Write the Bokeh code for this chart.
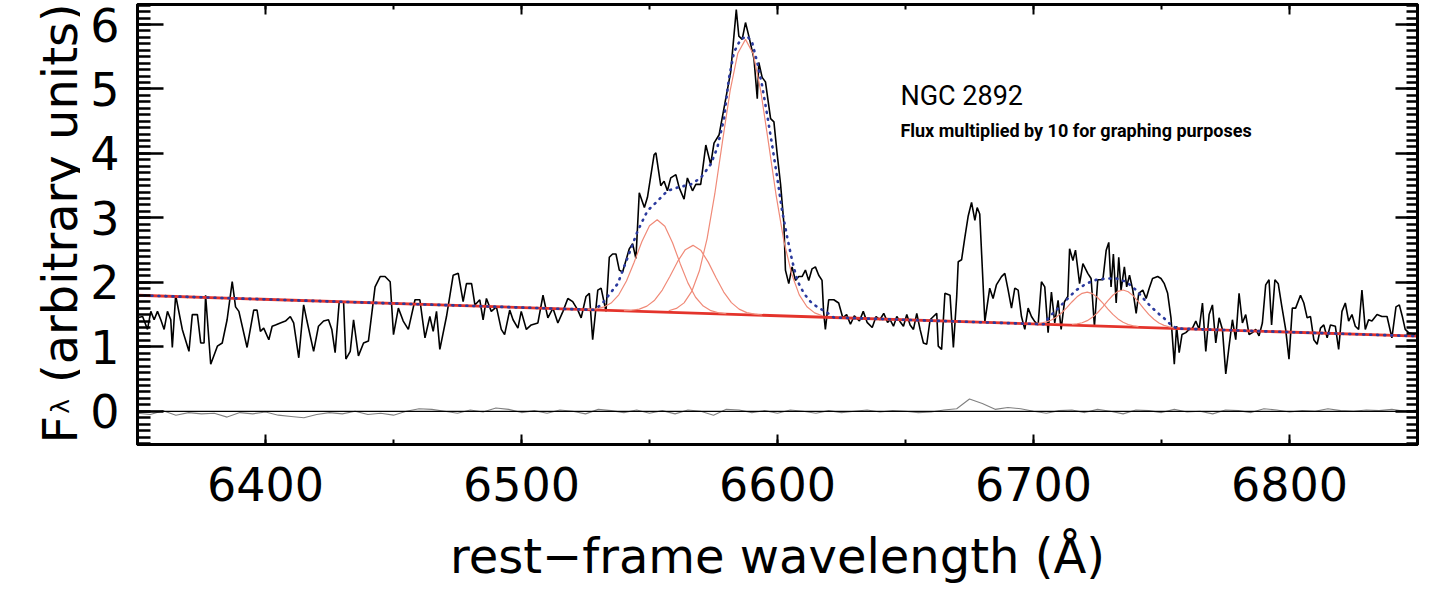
import numpy as np
from bokeh.plotting import figure
from bokeh.layouts import row
from bokeh.models import (SingleIntervalTicker, LinearAxis, Label, Span, Range1d,
                          CustomLabelingPolicy)
from bokeh.embed import file_html
from bokeh.resources import INLINE
from bokeh.core.properties import value

# ---------------- data ----------------
spec_wave_a = [6350.0, 6352.0, 6353.9, 6355.2, 6356.5, 6357.8, 6359.1, 6360.4, 6361.7, 6363.0, 6363.6,
               6364.9, 6367.5, 6370.1, 6371.4, 6373.4, 6374.7, 6376.0, 6376.6, 6378.6, 6381.2,
               6383.1, 6385.0, 6387.0, 6388.3, 6389.6, 6392.8, 6395.4, 6396.7, 6398.0, 6399.3,
               6401.3, 6402.6, 6403.9, 6405.8, 6407.8, 6409.7, 6411.0, 6413.0, 6414.9, 6416.2,
               6418.8, 6420.7, 6422.7, 6424.6, 6425.9, 6427.2, 6428.8, 6430.5, 6431.4, 6433.1,
               6434.4, 6436.3, 6438.3, 6440.2, 6442.8, 6444.8, 6446.7, 6448.7, 6450.0, 6451.9,
               6453.8, 6455.8, 6458.4, 6460.3, 6462.3, 6464.2, 6465.5, 6466.8, 6468.1, 6470.7,
               6473.3, 6475.3, 6477.2, 6478.5, 6480.5, 6481.8, 6483.7, 6485.0, 6486.3, 6488.2,
               6490.2, 6492.1, 6493.4, 6495.4, 6496.7, 6498.6, 6499.9, 6501.9, 6503.8]
spec_flux_a = [1.45, 1.47, 1.27, 1.55, 1.42, 1.55, 1.42, 1.27, 1.55, 1.42, 0.99,
               1.80, 1.27, 0.93, 1.50, 1.50, 1.06, 1.06, 1.80, 0.73, 1.01,
               1.06, 1.42, 2.01, 1.62, 1.55, 0.99, 1.57, 1.57, 1.24, 1.29,
               1.11, 1.32, 1.34, 1.37, 1.40, 1.47, 1.37, 0.83, 1.65, 1.40,
               0.93, 1.32, 1.40, 1.42, 1.27, 0.91, 1.70, 1.70, 0.81, 0.93,
               1.42, 0.86, 1.06, 1.09, 1.93, 2.09, 2.09, 2.01, 1.19, 1.60,
               1.40, 1.27, 1.73, 1.73, 1.14, 1.47, 1.24, 1.55, 0.96, 1.47,
               2.11, 2.14, 1.70, 1.98, 1.98, 1.65, 1.73, 1.42, 1.75, 1.55,
               1.62, 1.27, 1.19, 1.57, 1.42, 1.29, 1.55, 1.27, 1.34]

spec_wave_b = [6506.4, 6508.4, 6510.3, 6512.3, 6514.2, 6516.2, 6518.1, 6520.0, 6522.0, 6523.3,
               6525.2, 6526.5, 6527.8, 6529.8, 6531.1, 6533.0, 6534.3, 6535.6, 6536.9, 6538.2,
               6539.5, 6542.1, 6543.4, 6544.7, 6546.0, 6548.0, 6549.2, 6551.8, 6552.5, 6554.4,
               6555.7, 6557.0, 6558.3, 6560.3, 6561.6, 6563.5, 6564.8, 6566.8, 6568.1, 6570.0,
               6572.0, 6573.9, 6575.2, 6577.2, 6581.7, 6583.9, 6584.9, 6586.2, 6587.5, 6588.8,
               6590.8, 6592.1, 6592.7, 6594.0, 6595.3, 6597.3, 6598.6, 6599.9, 6601.2, 6602.5,
               6603.1, 6604.4, 6605.7, 6607.0, 6608.3, 6609.6, 6610.9, 6612.2, 6613.5, 6614.8,
               6616.1, 6617.4, 6618.0, 6618.7, 6620.0, 6622.0, 6623.9]
spec_flux_b = [1.37, 1.80, 1.45, 1.60, 1.37, 1.55, 1.75, 1.70, 1.57, 1.45,
               1.78, 1.83, 1.11, 1.88, 1.91, 1.55, 2.39, 2.44, 2.44, 2.19,
               2.16, 2.52, 2.60, 2.37, 3.39, 3.16, 3.32, 3.98, 4.01, 3.50,
               3.57, 3.42, 3.62, 3.67, 3.47, 3.29, 3.62, 3.42, 3.52, 3.52,
               4.13, 3.83, 4.16, 4.29, 5.26, 6.23, 5.82, 5.77, 6.03, 5.82,
               5.47, 4.85, 5.41, 5.18, 5.11, 4.54, 4.49, 3.98, 3.52, 2.91,
               2.19, 1.98, 2.24, 2.03, 2.09, 2.09, 2.19, 2.03, 2.21, 2.24,
               2.11, 2.03, 1.55, 1.27, 1.73, 1.73, 1.68]

spec_wave_c = [6625.5, 6627.0, 6628.5, 6630.0, 6632.0, 6633.5, 6635.0, 6637.0, 6638.5, 6640.0, 6641.5, 6643.0,
               6644.0, 6645.3, 6646.6, 6647.9, 6649.2, 6650.5, 6651.8, 6653.1, 6654.4, 6655.7,
               6657.0, 6658.3, 6659.6, 6660.9, 6662.2, 6662.8, 6664.1, 6665.4, 6667.4, 6668.7,
               6670.0, 6670.6, 6671.9, 6673.2, 6674.5, 6675.8, 6677.1, 6678.0, 6679.0, 6681.0,
               6682.9, 6684.2, 6685.5, 6687.5, 6688.8, 6690.1, 6691.4, 6692.7, 6694.0, 6695.3,
               6696.6, 6697.9, 6699.2, 6700.5, 6701.8, 6703.1, 6704.4, 6705.7, 6707.0, 6708.3,
               6709.6, 6710.8, 6712.1, 6713.4]
spec_flux_c = [1.45, 1.50, 1.35, 1.48, 1.40, 1.55, 1.38, 1.30, 1.47, 1.42, 1.52, 1.38,
               1.42, 1.32, 1.47, 1.39, 1.32, 1.50, 1.34, 1.27, 1.52, 1.27,
               1.06, 1.04, 1.42, 1.47, 1.52, 1.01, 0.96, 1.83, 1.80, 0.99,
               1.78, 2.32, 2.35, 2.70, 3.03, 3.24, 2.96, 3.16, 3.06, 1.39,
               1.91, 1.75, 1.96, 2.09, 2.14, 1.88, 1.60, 1.91, 1.88, 1.47,
               1.27, 1.60, 1.47, 1.39, 1.34, 2.01, 1.93, 1.22, 1.85, 1.37,
               1.72, 1.27, 1.70, 1.78]

spec_wave_d = [6714.1, 6715.4, 6716.4, 6718.0, 6719.3, 6721.2, 6722.5, 6723.8, 6725.1, 6727.1,
               6728.4, 6729.4, 6730.3, 6731.2, 6732.3, 6733.3, 6734.2, 6735.5, 6736.4, 6737.5,
               6738.8, 6740.1, 6741.1, 6742.7, 6744.0, 6745.2, 6746.5, 6748.5, 6749.8, 6751.1,
               6752.4, 6753.7, 6755.0, 6755.9, 6756.9, 6758.0, 6759.5, 6760.8, 6762.1, 6763.4,
               6764.7, 6766.0, 6767.3, 6768.6, 6769.9, 6771.2, 6772.5, 6773.8, 6775.1, 6776.4,
               6777.7, 6779.0, 6780.3, 6781.6, 6782.9, 6784.2, 6785.5, 6786.8, 6788.1, 6789.4,
               6790.7, 6792.0, 6793.0, 6794.3, 6795.6, 6796.9, 6798.5, 6799.8, 6801.1, 6802.4,
               6804.3, 6805.6, 6806.9, 6808.2, 6809.5, 6810.8, 6812.1, 6813.4, 6814.7, 6816.0,
               6817.9, 6819.2, 6820.5, 6821.8, 6823.1, 6824.4, 6825.7, 6827.0, 6828.3, 6829.6,
               6830.9, 6832.2, 6834.2, 6836.1, 6838.1, 6840.0, 6841.6, 6842.9, 6844.2, 6845.2,
               6846.5, 6849.1]
spec_flux_d = [2.52, 2.34, 2.50, 1.98, 2.29, 2.14, 2.06, 1.32, 2.04, 2.04,
               2.50, 2.62, 1.93, 2.44, 1.68, 2.39, 1.88, 2.24, 1.93, 2.11,
               1.88, 1.52, 1.83, 1.88, 1.75, 1.91, 2.06, 2.09, 2.06, 1.98,
               1.83, 1.45, 0.73, 1.32, 0.91, 1.19, 1.22, 1.27, 1.29, 1.40,
               1.27, 1.68, 0.93, 1.50, 1.65, 1.06, 1.45, 1.27, 0.58, 1.01,
               1.42, 1.11, 1.83, 1.37, 1.50, 1.19, 1.22, 1.27, 1.17, 1.37,
               1.96, 2.04, 1.34, 2.04, 1.98, 1.65, 1.27, 0.81, 1.60, 1.60,
               1.80, 1.68, 1.45, 1.47, 1.11, 1.04, 1.29, 1.34, 1.14, 1.34,
               1.32, 0.96, 1.55, 1.68, 1.40, 1.50, 1.32, 1.27, 1.88, 1.27,
               1.42, 1.40, 1.50, 1.47, 1.47, 1.14, 1.62, 1.65, 1.45, 1.27,
               1.22, 1.19]

cont_wave = [6350.0, 6850.0]
cont_flux = [1.80, 1.165]

g1_wave = [6526, 6529, 6532, 6535, 6538, 6541, 6544, 6547, 6550, 6553, 6556, 6559, 6562, 6565, 6568, 6571, 6574, 6577, 6580]
g1_flux = [1.581, 1.589, 1.615, 1.679, 1.807, 2.022, 2.313, 2.630, 2.879, 2.972, 2.871, 2.614, 2.290, 1.992, 1.769, 1.633, 1.561, 1.528, 1.513]

g2_wave = [6540, 6543, 6546, 6549, 6552, 6555, 6558, 6561, 6564, 6567, 6570, 6573, 6576, 6579, 6582, 6585, 6588, 6591, 6594]
g2_flux = [1.562, 1.567, 1.584, 1.631, 1.724, 1.881, 2.094, 2.325, 2.507, 2.574, 2.499, 2.310, 2.071, 1.850, 1.686, 1.585, 1.531, 1.506, 1.494]

g3_wave = [6557.5, 6560.5, 6563.5, 6566.5, 6569.5, 6572.5, 6575.5, 6578.5, 6581.5, 6584.5, 6587.5,
           6590.5, 6593.5, 6596.5, 6599.5, 6602.5, 6605.5, 6608.5, 6611.5, 6614.5, 6617.5]
g3_flux = [1.560, 1.596, 1.682, 1.859, 2.179, 2.679, 3.371, 4.183, 4.973, 5.554, 5.769,
           5.547, 4.958, 4.160, 3.340, 2.641, 2.134, 1.806, 1.621, 1.527, 1.483]

s1_wave = [6701, 6703, 6705, 6707, 6709, 6711, 6713, 6715, 6717, 6719, 6721, 6723, 6725, 6727, 6729, 6731, 6733, 6735, 6737, 6739, 6741]
s1_flux = [1.363, 1.370, 1.387, 1.416, 1.464, 1.528, 1.609, 1.696, 1.775, 1.830, 1.849, 1.825, 1.765, 1.681, 1.589, 1.503, 1.433, 1.381, 1.346, 1.325, 1.312]

s2_wave = [6715, 6717, 6719, 6721, 6723, 6725, 6727, 6729, 6731, 6733, 6735, 6737, 6739, 6741, 6743, 6745, 6747, 6749, 6751, 6753, 6755]
s2_flux = [1.346, 1.355, 1.373, 1.406, 1.457, 1.529, 1.617, 1.714, 1.800, 1.860, 1.881, 1.855, 1.790, 1.698, 1.597, 1.503, 1.427, 1.370, 1.333, 1.309, 1.296]

fit_wave = [6350.0, 6528.0, 6531.1, 6537.6, 6541.5, 6545.4, 6549.2, 6553.1, 6557.0, 6560.9, 6566.1, 6570.0,
            6573.9, 6576.5, 6579.1, 6581.0, 6583.0, 6585.6, 6588.2, 6590.1, 6592.1, 6594.0, 6596.0, 6597.9,
            6599.9, 6601.8, 6603.8, 6605.7, 6607.7, 6610.3, 6612.9, 6616.1, 6618.7, 6622.0, 6704.0, 6706.3,
            6710.2, 6713.4, 6716.7, 6720.6, 6724.5, 6728.4, 6732.3, 6736.2, 6740.1, 6744.0, 6747.8, 6751.7,
            6753.7, 6756.0, 6850.0]
fit_flux = [1.80, 1.574, 1.65, 1.98, 2.39, 2.80, 3.11, 3.26, 3.42, 3.47, 3.52, 3.62,
            3.83, 4.09, 4.54, 5.16, 5.57, 5.77, 5.82, 5.72, 5.41, 5.05, 4.59, 4.13,
            3.62, 3.11, 2.70, 2.34, 2.03, 1.83, 1.70, 1.60, 1.55, 1.455, 1.350, 1.47,
            1.62, 1.75, 1.88, 1.98, 2.04, 2.06, 2.06, 2.01, 1.88, 1.70, 1.55, 1.42,
            1.34, 1.284, 1.165]

resid_wave = list(range(6350, 6851, 5))
resid_flux = [-0.03, -0.05, 0.01, -0.06, -0.02, -0.04, -0.03, -0.09, -0.02, -0.04, -0.01,
              -0.06, -0.08, -0.10, -0.05, -0.02, -0.04, 0.00, -0.05, -0.03, -0.06,
              0.00, 0.04, 0.03, 0.00, -0.03, 0.02, -0.01, 0.05, 0.03, -0.02,
              0.01, -0.03, 0.02, 0.00, -0.04, 0.03, 0.01, -0.02, 0.02, -0.03,
              0.01, -0.04, 0.02, 0.00, -0.06, 0.03, 0.02, -0.02, 0.01, -0.03,
              0.02, 0.00, -0.03, 0.01, -0.02, 0.00, 0.02, -0.01, 0.01, 0.00,
              -0.02, -0.01, 0.02, 0.04, 0.19, 0.12, 0.03, 0.06, 0.04, 0.00,
              -0.03, 0.01, 0.02, -0.02, 0.03, 0.00, -0.04, 0.02, 0.01, -0.02,
              0.03, -0.01, 0.00, -0.04, 0.02, 0.01, -0.02, 0.04, 0.02, -0.01,
              0.01, 0.00, 0.04, 0.01, 0.00, 0.02, 0.01, 0.03, 0.00, 0.02]

x_ticks_interval = 100
y_ticks_interval = 1
title_text = "NGC 2892"
note_text = "Flux multiplied by 10 for graphing purposes"
x_label = "rest\u2212frame wavelength (\u00c5)"
y_label_main = "F"
y_label_sub = "\u03bb"
y_label_rest = "(arbitrary units)"

spec_wave = spec_wave_a + spec_wave_b + spec_wave_c + spec_wave_d
spec_flux = spec_flux_a + spec_flux_b + spec_flux_c + spec_flux_d

FONT = "DejaVu Sans"
H = 586
LEFT_W = 80
MAIN_W = 1421 - LEFT_W
TOP_B = 4
BOT_B = 138

# ---------------- left strip holding the rotated y-axis title ----------------
# its frame is aligned with the main frame, so glyph coordinates equal page pixels
lab = figure(width=LEFT_W, height=H, x_range=Range1d(8, 8 + LEFT_W),
             y_range=Range1d(8 + H - BOT_B, 8 + TOP_B),
             output_backend="svg", toolbar_location=None, x_axis_type=None, y_axis_type=None,
             min_border_left=0, min_border_right=0, min_border_top=TOP_B, min_border_bottom=BOT_B)
lab.grid.visible = False
lab.outline_line_color = None
lab.border_fill_color = "white"
lab.background_fill_color = "white"
lab.text(x=[67], y=[455], text=[y_label_main], angle=np.pi / 2, text_font=value(FONT),
         text_font_size="48px", text_align="left", text_baseline="alphabetic", text_color="black")
lab.text(x=[68], y=[425], text=[y_label_sub], angle=np.pi / 2, text_font=value(FONT),
         text_font_size="25px", text_align="left", text_baseline="alphabetic", text_color="black")
lab.text(x=[67], y=[394], text=[y_label_rest], angle=np.pi / 2, text_font=value(FONT),
         text_font_size="48px", text_align="left", text_baseline="alphabetic", text_color="black")

# ---------------- main plot ----------------
p = figure(width=MAIN_W, height=H, x_range=Range1d(6350, 6850), y_range=Range1d(-0.515, 6.31),
           output_backend="svg", toolbar_location=None,
           min_border_left=57, min_border_right=4, min_border_top=TOP_B, min_border_bottom=BOT_B)
p.grid.visible = False
p.outline_line_color = "black"
p.outline_line_width = 3
p.background_fill_color = "white"
p.border_fill_color = "white"

no_labels = CustomLabelingPolicy(code="return new Set()")

xa = p.xaxis[0]
xa.ticker = SingleIntervalTicker(interval=x_ticks_interval, num_minor_ticks=2)
xa.major_tick_in = 10
xa.major_tick_out = 0
xa.minor_tick_in = 5
xa.minor_tick_out = 0
xa.major_tick_line_width = 2
xa.minor_tick_line_width = 2
xa.axis_line_width = 3
xa.major_label_text_font = FONT
xa.major_label_text_font_size = "46px"
xa.major_label_text_color = "black"
xa.major_label_standoff = 22
xa.axis_label = x_label
xa.axis_label_text_font = FONT
xa.axis_label_text_font_size = "48px"
xa.axis_label_text_font_style = "normal"
xa.axis_label_text_color = "black"
xa.axis_label_standoff = 24

ya = p.yaxis[0]
ya.ticker = SingleIntervalTicker(interval=y_ticks_interval, num_minor_ticks=10)
ya.major_tick_in = 26
ya.major_tick_out = 0
ya.minor_tick_in = 13
ya.minor_tick_out = 0
ya.major_tick_line_width = 2.5
ya.minor_tick_line_width = 2.5
ya.axis_line_width = 3
ya.major_label_text_font = FONT
ya.major_label_text_font_size = "46px"
ya.major_label_text_color = "black"
ya.major_label_standoff = 18

ra = LinearAxis(ticker=SingleIntervalTicker(interval=y_ticks_interval, num_minor_ticks=10),
                major_label_text_font_size="1px", major_label_standoff=0, major_label_policy=no_labels,
                major_tick_in=22, major_tick_out=0, minor_tick_in=11, minor_tick_out=0,
                major_tick_line_width=2.5, minor_tick_line_width=2.5, axis_line_width=3)
p.add_layout(ra, "right")
ta = LinearAxis(ticker=SingleIntervalTicker(interval=x_ticks_interval, num_minor_ticks=2),
                major_label_text_font_size="1px", major_label_standoff=0, major_label_policy=no_labels,
                major_tick_in=10, major_tick_out=0, minor_tick_in=5, minor_tick_out=0,
                major_tick_line_width=2, minor_tick_line_width=2, axis_line_width=3)
p.add_layout(ta, "above")

# residuals and zero line
p.line(resid_wave, resid_flux, line_color="#808080", line_width=1.1)
p.add_layout(Span(location=0, dimension="width", line_color="black", line_width=1.2))

# spectrum
p.line(spec_wave, spec_flux, line_color="black", line_width=1.6)
# continuum
p.line(cont_wave, cont_flux, line_color="#e4332b", line_width=2.8)
# components
for w, f in ((g1_wave, g1_flux), (g2_wave, g2_flux), (g3_wave, g3_flux), (s1_wave, s1_flux), (s2_wave, s2_flux)):
    p.line(w, f, line_color="#f08a78", line_width=1.2)
# total fit
p.line(fit_wave, fit_flux, line_color="#2b3a9e", line_width=2.6, line_dash="1 6", line_cap="round")

# texts
p.add_layout(Label(x=6648, y=4.64, text=title_text, text_font="Roboto",
                   text_font_size="27px", text_color="black"))
p.add_layout(Label(x=6648, y=4.19, text=note_text, text_font="Roboto", text_font_style="bold",
                   text_font_size="18px", text_color="black"))

open("out.html", "w").write(file_html(row(lab, p), INLINE))
